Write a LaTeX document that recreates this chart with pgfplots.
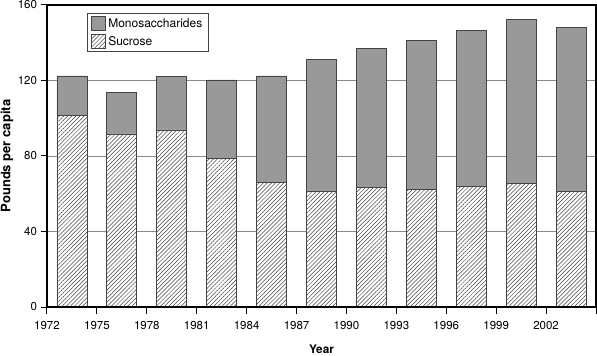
\documentclass[border=0pt]{standalone}
\usepackage{pgfplots}
\pgfplotsset{compat=1.18}
\usepackage{fontspec}
\setmainfont{TeX Gyre Heros}
\usetikzlibrary{patterns.meta,calc}
\definecolor{barfill}{HTML}{999999}
\definecolor{barline}{HTML}{444444}
\definecolor{gridc}{HTML}{888888}
\definecolor{hatchc}{HTML}{444444}

\pgfplotsset{
  layers/gridbelow/.define layer set={
    axis background,axis grid,main,axis ticks,axis lines,axis tick labels,
    axis descriptions,axis foreground
  }{/pgfplots/layers/standard},
}

\pgfplotstableread{
year sucrose mono
1973.5 101.7 20.7
1976.5 91.7 22.2
1979.5 93.8 28.2
1982.5 78.8 41.5
1985.5 65.9 56.5
1988.5 61.5 69.7
1991.5 63.4 73.6
1994.5 62.3 79.0
1997.5 63.8 82.8
2000.5 65.5 86.7
2003.5 61.5 86.5
}\datatable

\begin{document}
\begin{tikzpicture}
\begin{axis}[
  set layers=gridbelow,
  scale only axis, width=549pt, height=302pt,
  xmin=1972, xmax=2005, ymin=0, ymax=160,
  ybar stacked, bar width=1.8,
  xtick={1972,1975,...,2005},
  xticklabels={1972,1975,1978,1981,1984,1987,1990,1993,1996,1999,2002,{}},
  ytick={0,40,...,160},
  tick align=outside, major tick length=6.5pt,
  xtick pos=bottom, ytick pos=left,
  ymajorgrids, grid style={gridc, line width=0.9pt},
  axis line style={line width=1.5pt},
  tick style={black, line width=1pt},
  ticklabel style={font=\fontsize{11.5}{13}\selectfont},
  xticklabel style={yshift=-4pt},
  /pgf/number format/assume math mode=true,
  /pgf/number format/1000 sep={},
  xlabel={Year}, ylabel={Pounds per capita},
  xlabel style={at={(axis description cs:0.5,-0.1525)}, anchor=base,
    font=\bfseries\fontsize{11.8}{13}\selectfont},
  ylabel style={at={(axis description cs:-0.0729,0.5)}, anchor=center,
    font=\bfseries\fontsize{13}{15}\selectfont},
  legend style={at={(0.073,0.974)}, anchor=north west, draw=barline, line width=0.8pt,
    font=\fontsize{12}{14}\selectfont, row sep=3pt, inner xsep=4pt, inner ysep=3pt},
  reverse legend,
  legend cell align=left,
  legend image code/.code={\draw[#1] (0pt,-7pt) rectangle (14pt,7pt);},
]
\addplot[draw=barline, line width=0.8pt, fill=white,
  postaction={pattern={Lines[angle=45,distance=2.9pt,line width=0.5pt]}, pattern color=hatchc}]
  table[x=year,y=sucrose]{\datatable};
\addlegendentry{Sucrose}
\addplot[draw=barline, line width=0.8pt, fill=barfill]
  table[x=year,y=mono]{\datatable};
\addlegendentry{Monosaccharides}
\end{axis}
\pgfresetboundingbox
\path ($(current axis.south west)+(-47pt,-49pt)$) rectangle ($(current axis.north east)+(1pt,5pt)$);
\end{tikzpicture}
\end{document}
